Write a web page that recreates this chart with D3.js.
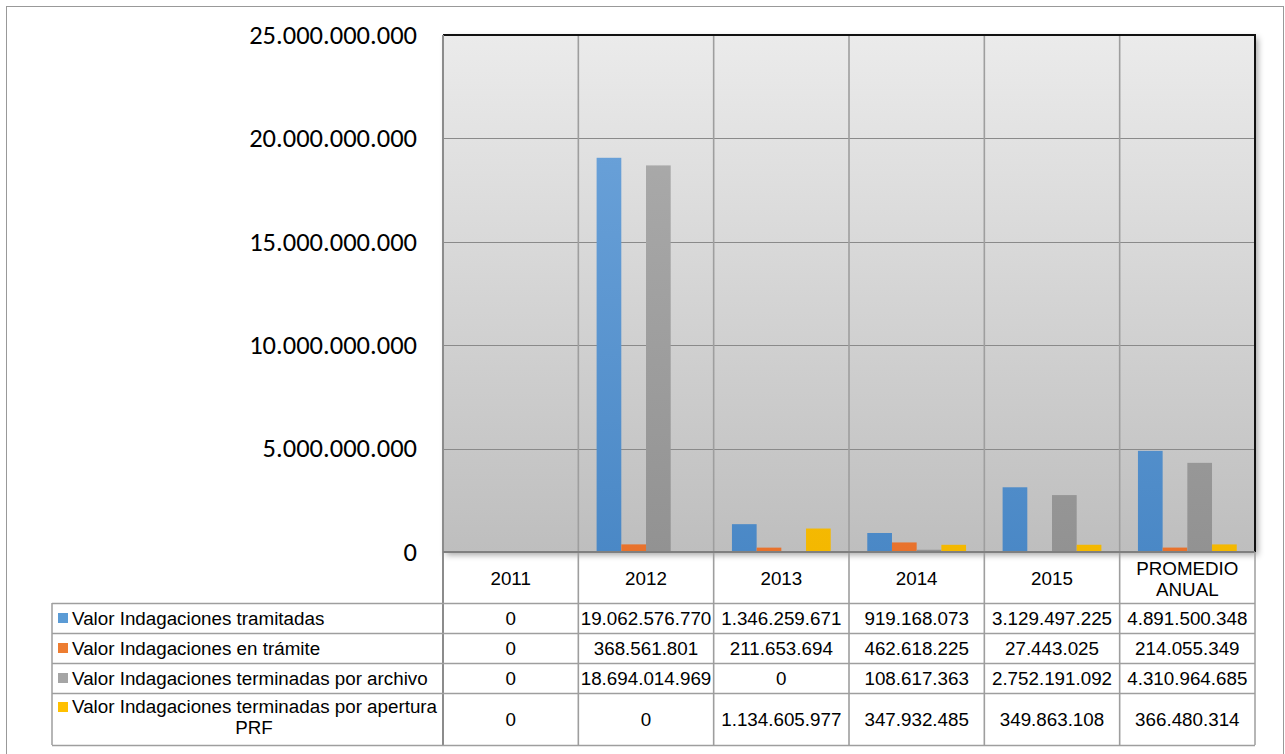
<!DOCTYPE html>
<html>
<head>
<meta charset="utf-8">
<script src="https://cdn.jsdelivr.net/npm/d3@7"></script>
<style>
  body { margin: 0; background: #fff; }
</style>
</head>
<body>
<script>
// data
var years = ["2011", "2012", "2013", "2014", "2015", "PROMEDIO ANUAL"];
var seriesNames = [
    "Valor Indagaciones tramitadas",
    "Valor Indagaciones en trámite",
    "Valor Indagaciones terminadas por archivo",
    "Valor Indagaciones terminadas por apertura PRF"
];
var tramitadas = [0, 19062576770, 1346259671, 919168073, 3129497225, 4891500348];
var enTramite = [0, 368561801, 211653694, 462618225, 27443025, 214055349];
var porArchivo = [0, 18694014969, 0, 108617363, 2752191092, 4310964685];
var porAperturaPRF = [0, 0, 1134605977, 347932485, 349863108, 366480314];
var yTicks = [0, 5e9, 10e9, 15e9, 20e9, 25e9];

var seriesValues = [tramitadas, enTramite, porArchivo, porAperturaPRF];
var colorsTop = ["#71a7dd", "#f58d4c", "#b0b0b0", "#ffc825"];
var colorsBot = ["#4a88c6", "#e8722c", "#929292", "#f4b800"];
var keyColors = ["#5b9bd5", "#ed7d31", "#a5a5a5", "#ffc000"];

var locale = d3.formatLocale({decimal: ",", thousands: ".", grouping: [3], currency: ["", ""]});
var fmt = locale.format(",d");

// #region SETUP
var W = 1285, H = 754;
var plot = {left: 443, right: 1255, top: 35, bottom: 552};
var rowLines = [603, 633, 663, 693, 745];
var tableLeft = 52;
var tFont = "Arial, 'Liberation Sans', sans-serif";
var tSize = "18.8px";

var svg = d3.select("body").append("svg")
    .attr("width", W)
    .attr("height", H)
    .style("display", "block");

var defs = svg.append("defs");

var bg = defs.append("linearGradient").attr("id", "plot-bg")
    .attr("x1", 0).attr("y1", 0).attr("x2", 0).attr("y2", 1);
bg.append("stop").attr("offset", "0%").attr("stop-color", "#ebebeb");
bg.append("stop").attr("offset", "100%").attr("stop-color", "#bebebe");

colorsTop.forEach(function(c, i) {
    var g = defs.append("linearGradient").attr("id", "bar-grad-" + i)
        .attr("gradientUnits", "userSpaceOnUse")
        .attr("x1", 0).attr("y1", plot.top).attr("x2", 0).attr("y2", plot.bottom);
    g.append("stop").attr("offset", "0%").attr("stop-color", c);
    g.append("stop").attr("offset", "100%").attr("stop-color", colorsBot[i]);
});

var shadow = defs.append("filter").attr("id", "shadow")
    .attr("x", "-5%").attr("y", "-5%").attr("width", "110%").attr("height", "110%");
shadow.append("feDropShadow")
    .attr("dx", 3).attr("dy", 3).attr("stdDeviation", 3)
    .attr("flood-color", "#000").attr("flood-opacity", 0.35);

// outer chart border
svg.append("rect")
    .attr("x", 6.5).attr("y", 6.5)
    .attr("width", 1277).attr("height", 760)
    .attr("fill", "none")
    .attr("stroke", "#999")
    .attr("stroke-width", 1);
// #endregion

// #region SCALES
var x = d3.scaleBand()
    .domain(years)
    .range([plot.left, plot.right])
    .paddingInner(0)
    .paddingOuter(0);

var xs = d3.scaleBand()
    .domain(d3.range(seriesNames.length))
    .range([0, x.bandwidth()])
    .paddingInner(0)
    .paddingOuter(0.74);

var y = d3.scaleLinear()
    .domain([0, 25e9])
    .range([plot.bottom, plot.top]);
// #endregion

// #region PLOT AREA
svg.append("rect")
    .attr("x", plot.left)
    .attr("y", plot.top)
    .attr("width", plot.right - plot.left)
    .attr("height", plot.bottom - plot.top)
    .attr("fill", "url(#plot-bg)")
    .attr("filter", "url(#shadow)");

// horizontal gridlines
svg.append("g")
    .selectAll("line")
    .data(yTicks.slice(1, -1))
    .enter()
    .append("line")
        .attr("x1", plot.left).attr("x2", plot.right)
        .attr("y1", d => Math.round(y(d)) + 0.5)
        .attr("y2", d => Math.round(y(d)) + 0.5)
        .attr("stroke", "#8a8a8a")
        .attr("stroke-width", 1);

// vertical category separators (through the table)
svg.append("g")
    .selectAll("line")
    .data(years.slice(1))
    .enter()
    .append("line")
        .attr("x1", d => x(d)).attr("x2", d => x(d))
        .attr("y1", plot.top).attr("y2", rowLines[rowLines.length - 1])
        .attr("stroke", "#9e9e9e")
        .attr("stroke-width", 1.6);

// bars
var barGroups = svg.append("g")
    .selectAll("g")
    .data(seriesValues)
    .enter()
    .append("g")
        .attr("fill", (d, i) => "url(#bar-grad-" + i + ")");

barGroups.each(function(vals, si) {
    d3.select(this).selectAll("rect")
        .data(vals)
        .enter()
        .append("rect")
            .attr("x", (d, i) => x(years[i]) + xs(si))
            .attr("width", xs.bandwidth())
            .attr("y", d => y(d))
            .attr("height", d => y(0) - y(d));
});

// frame
svg.append("line")
    .attr("x1", plot.left).attr("x2", plot.right + 1)
    .attr("y1", plot.top).attr("y2", plot.top)
    .attr("stroke", "#111").attr("stroke-width", 2);
svg.append("line")
    .attr("x1", plot.right).attr("x2", plot.right)
    .attr("y1", plot.top).attr("y2", plot.bottom)
    .attr("stroke", "#111").attr("stroke-width", 2);
svg.append("line")
    .attr("x1", plot.left).attr("x2", plot.left)
    .attr("y1", plot.top).attr("y2", rowLines[rowLines.length - 1])
    .attr("stroke", "#8c8c8c").attr("stroke-width", 2);
svg.append("line")
    .attr("x1", plot.left).attr("x2", plot.right)
    .attr("y1", plot.bottom).attr("y2", plot.bottom)
    .attr("stroke", "#7f7f7f").attr("stroke-width", 2);
// #endregion

// #region Y AXIS
svg.append("g")
    .selectAll("text")
    .data(yTicks)
    .enter()
    .append("text")
        .text(d => fmt(d))
        .attr("x", 417)
        .attr("y", d => y(d))
        .attr("dy", "0.33em")
        .attr("text-anchor", "end")
        .attr("font-family", "Carlito, Lato, sans-serif")
        .attr("font-size", "26.5px")
        .attr("fill", "#000");
// #endregion

// #region DATA TABLE
var table = svg.append("g").attr("id", "data-table");

// horizontal row lines
table.selectAll("line.row")
    .data(rowLines)
    .enter()
    .append("line")
        .attr("class", "row")
        .attr("x1", tableLeft).attr("x2", plot.right)
        .attr("y1", d => d + 0.5).attr("y2", d => d + 0.5)
        .attr("stroke", "#9e9e9e")
        .attr("stroke-width", 1.5);

// left + right table borders
table.append("line")
    .attr("x1", tableLeft).attr("x2", tableLeft)
    .attr("y1", rowLines[0]).attr("y2", rowLines[rowLines.length - 1])
    .attr("stroke", "#9e9e9e").attr("stroke-width", 1.5);
table.append("line")
    .attr("x1", plot.right).attr("x2", plot.right)
    .attr("y1", plot.bottom).attr("y2", rowLines[rowLines.length - 1])
    .attr("stroke", "#9e9e9e").attr("stroke-width", 1.5);

// category header labels
years.forEach(function(yr) {
    var words = yr == "PROMEDIO ANUAL" ? ["PROMEDIO", "ANUAL"] : [yr];
    var cx = x(yr) + x.bandwidth() / 2;
    var cy = (plot.bottom + rowLines[0]) / 2 + 1;
    var t = table.append("text")
        .attr("text-anchor", "middle")
        .attr("font-family", tFont)
        .attr("font-size", tSize)
        .attr("fill", "#000");
    words.forEach(function(w, k) {
        t.append("tspan")
            .attr("x", cx)
            .attr("y", cy - (words.length - 1) * 10.5 + k * 21)
            .attr("dy", "0.35em")
            .text(w);
    });
});

// row labels with legend keys
seriesNames.forEach(function(name, si) {
    var top = rowLines[si], bot = rowLines[si + 1];
    var cy = (top + bot) / 2;
    if (si == 3) {
        table.append("rect")
            .attr("x", 58).attr("y", top + 9)
            .attr("width", 10).attr("height", 10)
            .attr("fill", keyColors[si]);
        var t = table.append("text")
            .attr("font-family", tFont)
            .attr("font-size", tSize)
            .attr("fill", "#000");
        t.append("tspan")
            .attr("x", 72).attr("y", top + 20)
            .text("Valor Indagaciones terminadas por apertura");
        t.append("tspan")
            .attr("x", 254).attr("y", top + 41)
            .attr("text-anchor", "middle")
            .text("PRF");
    } else {
        table.append("rect")
            .attr("x", 58).attr("y", cy - 5)
            .attr("width", 10).attr("height", 10)
            .attr("fill", keyColors[si]);
        table.append("text")
            .attr("x", 72).attr("y", cy)
            .attr("dy", "0.35em")
            .attr("font-family", tFont)
            .attr("font-size", tSize)
            .attr("fill", "#000")
            .text(name);
    }

    table.selectAll(null)
        .data(seriesValues[si])
        .enter()
        .append("text")
            .text(d => fmt(d))
            .attr("x", (d, i) => x(years[i]) + x.bandwidth() / 2)
            .attr("y", cy)
            .attr("dy", "0.35em")
            .attr("text-anchor", "middle")
            .attr("font-family", tFont)
            .attr("font-size", tSize)
            .attr("fill", "#000");
});
// #endregion
</script>
</body>
</html>
